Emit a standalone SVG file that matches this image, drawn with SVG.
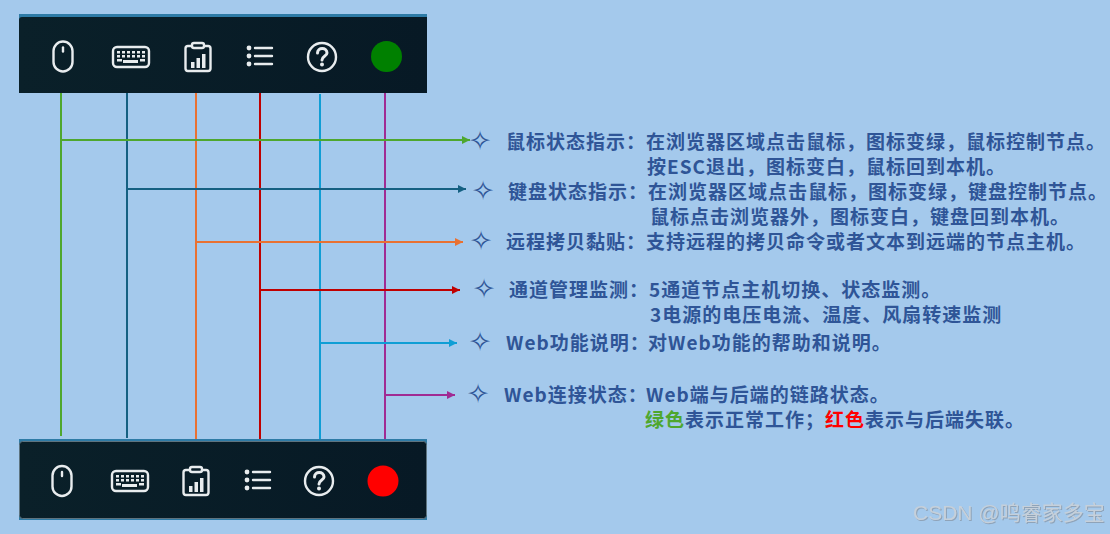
<svg xmlns="http://www.w3.org/2000/svg" width="1110" height="534" viewBox="0 0 1110 534">
<style>
.t{font-family:"Noto Sans CJK SC","Liberation Sans",sans-serif;font-size:19px;font-weight:700;letter-spacing:1px;fill:#2F5597}
.s{font-family:"DejaVu Sans",sans-serif;font-size:27px;fill:#2F5597;text-anchor:middle}
.w{font-family:"Liberation Sans","Noto Sans CJK SC",sans-serif;font-size:21px;fill:#C6D0DA;filter:drop-shadow(1px 1px 0.6px #8FA3B8)}
.i{fill:none;stroke:#E8ECEE;stroke-width:2.400;stroke-linecap:round;stroke-linejoin:round}
.f{fill:#E8ECEE}
.l{fill:none;stroke-width:2}
</style>
<defs>
<linearGradient id="bar" x1="0" x2="1" y1="0" y2="0"><stop offset="0" stop-color="#0A2029"/><stop offset="1" stop-color="#071925"/></linearGradient>
<marker id="a1" markerUnits="userSpaceOnUse" markerWidth="9" markerHeight="8" refX="8" refY="4" orient="auto"><path d="M0 0L8 4L0 8Z" fill="#4EA72E"/></marker>
<marker id="a2" markerUnits="userSpaceOnUse" markerWidth="9" markerHeight="8" refX="8" refY="4" orient="auto"><path d="M0 0L8 4L0 8Z" fill="#156082"/></marker>
<marker id="a3" markerUnits="userSpaceOnUse" markerWidth="9" markerHeight="8" refX="8" refY="4" orient="auto"><path d="M0 0L8 4L0 8Z" fill="#E97132"/></marker>
<marker id="a4" markerUnits="userSpaceOnUse" markerWidth="9" markerHeight="8" refX="8" refY="4" orient="auto"><path d="M0 0L8 4L0 8Z" fill="#C00000"/></marker>
<marker id="a5" markerUnits="userSpaceOnUse" markerWidth="9" markerHeight="8" refX="8" refY="4" orient="auto"><path d="M0 0L8 4L0 8Z" fill="#0F9ED5"/></marker>
<marker id="a6" markerUnits="userSpaceOnUse" markerWidth="9" markerHeight="8" refX="8" refY="4" orient="auto"><path d="M0 0L8 4L0 8Z" fill="#A02B93"/></marker>
<g id="mouse"><rect class="i" x="-9.500" y="-15" width="19" height="30" rx="9.500"/><path class="i" d="M0-9V-5"/></g>
<g id="kbd"><rect class="i" x="-18" y="-10" width="36" height="20" rx="4"/><path d="M-14-6h3v2.500h-3zM-9-6h3v2.500h-3zM-4-6h3v2.500h-3zM1-6h3v2.500h-3zM6-6h3v2.500h-3zM11-6h3v2.500h-3zM-14-2h3v2.500h-3zM-9-2h3v2.500h-3zM-4-2h3v2.500h-3zM1-2h3v2.500h-3zM6-2h3v2.500h-3zM11-2h3v2.500h-3zM-14 2h5v2.500h-5zM-8 3h15v3h-15zM9 2h5v2.500h-5z" class="f"/></g>
<g id="clip"><path class="i" d="M-7-11H-10Q-12.500-11-12.500-8.500V11.500Q-12.500 14-10 14H10Q12.500 14 12.500 11.500V-8.500Q12.500-11 10-11H7"/><rect class="i" x="-6" y="-14" width="12" height="5" rx="2"/><path class="f" d="M-7 5h3.500v6h-3.500zM-1.500 1h3.500v10h-3.500zM4 -3h3.500v14h-3.500z"/></g>
<g id="list"><path class="i" d="M-5-8H12M-5 0H12M-5 8H12"/><circle class="f" cx="-11" cy="-8" r="2.400"/><circle class="f" cx="-11" cy="0" r="2.400"/><circle class="f" cx="-11" cy="8" r="2.400"/></g>
<g id="help"><circle class="i" cx="0" cy="0" r="14"/><path d="M-4.500-4C-4.500-10 5-10 5-4C5-1 0-1 0 3" fill="none" stroke="#E8ECEE" stroke-width="3" stroke-linecap="round"/><circle class="f" cx="0" cy="7.500" r="2"/></g>
</defs>
<rect width="1110" height="534" fill="#A4C9EC"/>
<g id="connectors">
<path class="l" stroke="#4EA72E" d="M61 91V436"/><path class="l" stroke="#156082" d="M127 91V438"/><path class="l" stroke="#E97132" d="M196 92V439"/><path class="l" stroke="#C00000" d="M260 92V439"/><path class="l" stroke="#0F9ED5" d="M320 94V441"/><path class="l" stroke="#A02B93" d="M385 92V439"/>
<path class="l" stroke="#4EA72E" marker-end="url(#a1)" d="M61 140H470"/>
<path class="l" stroke="#156082" marker-end="url(#a2)" d="M127 189H466"/>
<path class="l" stroke="#E97132" marker-end="url(#a3)" d="M196 242H463"/>
<path class="l" stroke="#C00000" marker-end="url(#a4)" d="M260 290H460"/>
<path class="l" stroke="#0F9ED5" marker-end="url(#a5)" d="M320 343H457"/>
<path class="l" stroke="#A02B93" marker-end="url(#a6)" d="M385 395H455"/>
</g>
<g id="toolbar-top">
<rect x="19" y="14" width="408" height="79" fill="#2E7BA6"/>
<path d="M19 93V20Q19 17 22 17H427V93Z" fill="url(#bar)"/>
<use href="#mouse" x="63" y="56.500"/><use href="#kbd" x="131" y="57"/><use href="#clip" x="198" y="57"/><use href="#list" x="260" y="56"/><use href="#help" x="322" y="57"/>
<circle cx="386.500" cy="56.500" r="15.500" fill="#008000"/>
</g>
<g id="toolbar-bottom">
<rect x="19" y="439" width="408" height="81" fill="#2E7BA6"/>
<rect x="19.500" y="441.500" width="407" height="77" rx="3" fill="url(#bar)" stroke="#5E7480"/>
<use href="#mouse" x="62" y="481"/><use href="#kbd" x="130" y="481"/><use href="#clip" x="196" y="481"/><use href="#list" x="258" y="480"/><use href="#help" x="319" y="481"/>
<circle cx="383" cy="481" r="15.500" fill="#FF0000"/>
</g>
<g id="item-mouse"><text class="s" x="480" y="150">✧</text><text class="t" x="506" y="149">鼠标状态指示：</text><text class="t" x="646" y="149">在浏览器区域点击鼠标，图标变绿，鼠标控制节点。</text><text class="t" x="647" y="174">按ESC退出，图标变白，鼠标回到本机。</text></g>
<g id="item-keyboard"><text class="s" x="483" y="200">✧</text><text class="t" x="508" y="199">键盘状态指示：</text><text class="t" x="648" y="199">在浏览器区域点击鼠标，图标变绿，键盘控制节点。</text><text class="t" x="650" y="224">鼠标点击浏览器外，图标变白，键盘回到本机。</text></g>
<g id="item-clipboard"><text class="s" x="481" y="250">✧</text><text class="t" x="506" y="249">远程拷贝黏贴：</text><text class="t" x="646" y="249">支持远程的拷贝命令或者文本到远端的节点主机。</text></g>
<g id="item-channel"><text class="s" x="484" y="298">✧</text><text class="t" x="509" y="297">通道管理监测：</text><text class="t" x="649" y="297">5通道节点主机切换、状态监测。</text><text class="t" x="650" y="322">3电源的电压电流、温度、风扇转速监测</text></g>
<g id="item-help"><text class="s" x="480" y="351">✧</text><text class="t" x="506" y="350">Web功能说明：</text><text class="t" x="648" y="350">对Web功能的帮助和说明。</text></g>
<g id="item-status"><text class="s" x="478" y="403">✧</text><text class="t" x="504" y="402">Web连接状态：</text><text class="t" x="646" y="402">Web端与后端的链路状态。</text><text class="t" x="645" y="427"><tspan fill="#4EA72E">绿色</tspan>表示正常工作；<tspan fill="#FF0000">红色</tspan>表示与后端失联。</text></g>
<text class="w" x="913" y="520">CSDN @鸣睿家多宝</text>
</svg>
